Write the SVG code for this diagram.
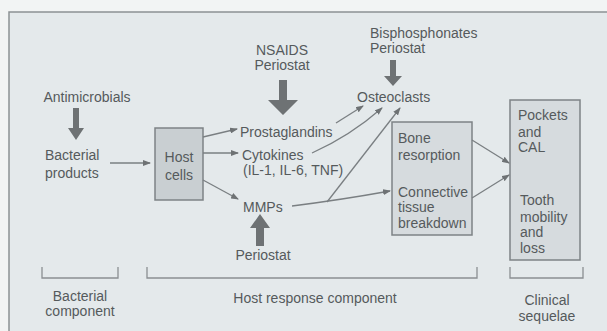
<svg xmlns="http://www.w3.org/2000/svg" width="607" height="331" viewBox="0 0 607 331">
<style>
  text { font-family: "Liberation Sans", Arial, sans-serif; font-size: 14px; fill: #555a5c; }
  .c { text-anchor: middle; }
  .box { stroke: #7d8386; stroke-width: 1.5; }
  .ln { fill: none; stroke: #7a7f82; stroke-width: 1.3; marker-end: url(#ah); }
  .blk { fill: #6e7274; }
  .br { fill: none; stroke: #8a8f92; stroke-width: 1.3; }
</style>
<defs>
  <marker id="ah" markerWidth="8" markerHeight="6" refX="7" refY="3" orient="auto" markerUnits="userSpaceOnUse">
    <path d="M0,0 L8,3 L0,6 z" fill="#6e7274"/>
  </marker>
</defs>
<rect x="0" y="0" width="607" height="331" fill="#f2f4f4"/>
<rect x="9" y="12" width="598" height="319" fill="#e4e9eb"/>
<path d="M9,331 L9,12 L607,12" fill="none" stroke="#8c9194" stroke-width="1.5"/>

<g id="antimicrobials">
  <text class="c" x="87" y="102">Antimicrobials</text>
  <path class="blk" d="M73,108 h6 v20 h5 l-8,12 l-8,-12 h5 z"/>
</g>
<g id="bacterial-products">
  <text x="45" y="160">Bacterial</text>
  <text x="45" y="178">products</text>
</g>
<g id="host-cells">
  <rect class="box" x="155" y="128" width="48" height="72" fill="#c9cfd2"/>
  <text class="c" x="179" y="162">Host</text>
  <text class="c" x="179" y="180">cells</text>
</g>
<g id="nsaids">
  <text class="c" x="282" y="55">NSAIDS</text>
  <text class="c" x="282" y="70">Periostat</text>
  <path class="blk" d="M279,80 h8 v20 h11 l-15,15 l-15,-15 h11 z"/>
</g>
<g id="bisphosphonates">
  <text x="370" y="38">Bisphosphonates</text>
  <text x="370" y="53">Periostat</text>
  <path class="blk" d="M390,60 h6 v16 h6 l-9,10 l-9,-10 h6 z"/>
</g>
<g id="osteoclasts">
  <text x="357" y="102">Osteoclasts</text>
</g>
<g id="prostaglandins">
  <text x="240" y="137">Prostaglandins</text>
</g>
<g id="cytokines">
  <text x="242" y="160">Cytokines</text>
  <text x="243" y="175">(IL-1, IL-6, TNF)</text>
</g>
<g id="mmps">
  <text x="243" y="212">MMPs</text>
</g>
<g id="periostat">
  <path class="blk" d="M260,214 l10,14 h-6 v18 h-8 v-18 h-6 z"/>
  <text class="c" x="263" y="260">Periostat</text>
</g>
<g id="tissue-destruction">
  <rect class="box" x="392" y="122" width="80" height="113" fill="#d6dbde"/>
  <text x="398" y="143">Bone</text>
  <text x="398" y="160">resorption</text>
  <text x="398" y="197">Connective</text>
  <text x="398" y="212">tissue</text>
  <text x="398" y="228">breakdown</text>
</g>
<g id="clinical-box">
  <rect class="box" x="510" y="100" width="70" height="160" fill="#d6dbde"/>
  <text x="518" y="120">Pockets</text>
  <text x="518" y="137">and</text>
  <text x="518" y="152">CAL</text>
  <text x="520" y="205">Tooth</text>
  <text x="520" y="222">mobility</text>
  <text x="520" y="237">and</text>
  <text x="520" y="253">loss</text>
</g>

<g id="connectors">
  <line class="ln" x1="110" y1="163" x2="150" y2="163"/>
  <line class="ln" x1="203" y1="137" x2="237" y2="129"/>
  <line class="ln" x1="203" y1="153" x2="238" y2="153"/>
  <line class="ln" x1="203" y1="180" x2="238" y2="199"/>
  <line class="ln" x1="336" y1="123" x2="363" y2="106"/>
  <path class="ln" d="M312,153 Q350,136 382,108"/>
  <path class="ln" d="M292,206 Q340,200 390,191"/>
  <line class="ln" x1="327" y1="202" x2="400" y2="108"/>
  <line class="ln" x1="472" y1="140" x2="509" y2="163"/>
  <line class="ln" x1="472" y1="198" x2="509" y2="175"/>
</g>

<g id="labels">
  <path class="br" d="M42,267 V278 H118 V267"/>
  <path class="br" d="M147,267 V278 H477 V267"/>
  <path class="br" d="M510,267 V278 H583 V267"/>
  <text class="c" x="80" y="301">Bacterial</text>
  <text class="c" x="80" y="316">component</text>
  <text class="c" x="315" y="303">Host response component</text>
  <text class="c" x="547" y="305">Clinical</text>
  <text class="c" x="547" y="321">sequelae</text>
</g>
</svg>
